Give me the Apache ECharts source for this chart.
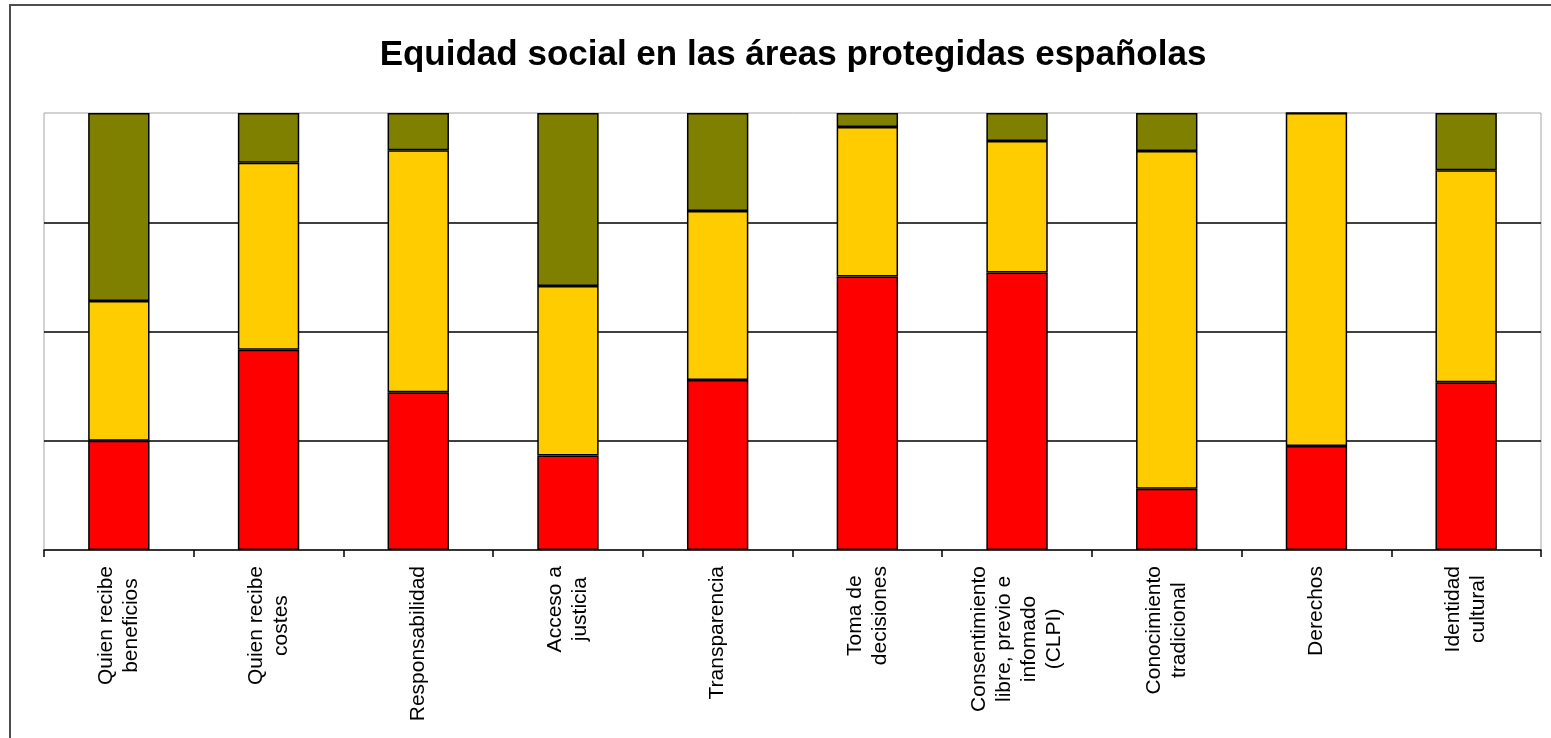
<!DOCTYPE html>
<html>
<head>
<meta charset="utf-8">
<title>Equidad social en las áreas protegidas españolas</title>
<script src="https://cdn.jsdelivr.net/npm/echarts@6/dist/echarts.min.js"></script>
<style>
  html, body { margin: 0; padding: 0; background: #fff; }
  #chart_equidad { width: 1551px; height: 738px; }
</style>
</head>
<body>
<div id="chart_equidad"></div>
<script>
// categorias del eje x (saltos de linea como en el original)
const categorias = [
  'Quien recibe\nbeneficios',
  'Quien recibe\ncostes',
  'Responsabilidad',
  'Acceso a\njusticia',
  'Transparencia',
  'Toma de\ndecisiones',
  'Consentimiento\nlibre, previo e\ninfomado\n(CLPI)',
  'Conocimiento\ntradicional',
  'Derechos',
  'Identidad\ncultural'
];

// porcentajes (apilado al 100%)
const valoresRojo     = [25.0, 45.8, 36.1, 21.6, 38.9, 62.6, 63.5, 14.0, 23.8, 38.4];
const valoresAmarillo = [32.0, 42.8, 55.4, 38.8, 38.7, 34.2, 30.1, 77.3, 76.2, 48.5];
const valoresVerde    = [43.0, 11.4,  8.5, 39.6, 22.4,  3.2,  6.4,  8.7,  0.0, 13.1];

const fuente = '"Liberation Sans", Arial, sans-serif';

let myChart = echarts.init(document.getElementById('chart_equidad'));

let borde = {
  borderColor: '#000',
  borderWidth: 1.5
};

let option = {
  animation: false,
  backgroundColor: '#fff',
  textStyle: {
    fontFamily: fuente
  },
  title: {
    text: 'Equidad social en las áreas protegidas españolas',
    left: 793,
    top: 55,
    padding: 0,
    textAlign: 'center',
    textVerticalAlign: 'middle',
    textStyle: {
      fontFamily: fuente,
      fontSize: 35,
      fontWeight: 'bold',
      color: '#000'
    }
  },
  graphic: [{
    // marco exterior del grafico
    type: 'rect',
    z: -1,
    shape: { x: 10, y: 5, width: 1600, height: 800 },
    style: { fill: null, stroke: '#4d4d4d', lineWidth: 2 }
  }],
  grid: {
    left: 44,
    right: 10,
    top: 113,
    bottom: 188,
    show: true,
    borderColor: '#a6a6a6',
    borderWidth: 1
  },
  xAxis: {
    type: 'category',
    data: categorias,
    axisLine: {
      show: true,
      lineStyle: { color: '#000', width: 1.5 }
    },
    axisTick: {
      show: true,
      length: 7,
      lineStyle: { color: '#000', width: 1.5 }
    },
    axisLabel: {
      interval: 0,
      rotate: 90,
      margin: 16,
      color: '#000',
      fontFamily: fuente,
      fontSize: 21,
      lineHeight: 25,
      formatter: function (valor) {
        return valor.split('\n').map(function (linea) {
          return '{c|' + linea + '}';
        }).join('\n');
      },
      rich: {
        c: {
          align: 'center',
          fontFamily: fuente,
          fontSize: 21,
          lineHeight: 25,
          color: '#000'
        }
      }
    }
  },
  yAxis: {
    type: 'value',
    min: 0,
    max: 100,
    interval: 25,
    axisLabel: { show: false },
    axisTick: { show: false },
    axisLine: { show: false },
    splitLine: {
      show: true,
      showMinLine: false,
      showMaxLine: false,
      lineStyle: { color: '#000', width: 1.5 }
    }
  },
  series: [{
    name: 'Rojo',
    type: 'bar',
    stack: 'total',
    barWidth: '41%',
    data: valoresRojo,
    itemStyle: Object.assign({ color: '#ff0000' }, borde)
  }, {
    name: 'Amarillo',
    type: 'bar',
    stack: 'total',
    barWidth: '41%',
    data: valoresAmarillo,
    itemStyle: Object.assign({ color: '#ffcc00' }, borde)
  }, {
    name: 'Verde',
    type: 'bar',
    stack: 'total',
    barWidth: '41%',
    data: valoresVerde,
    itemStyle: Object.assign({ color: '#808000' }, borde)
  }]
};

myChart.setOption(option, true);

window.addEventListener('resize', () => {
  myChart.resize();
});
</script>
</body>
</html>
